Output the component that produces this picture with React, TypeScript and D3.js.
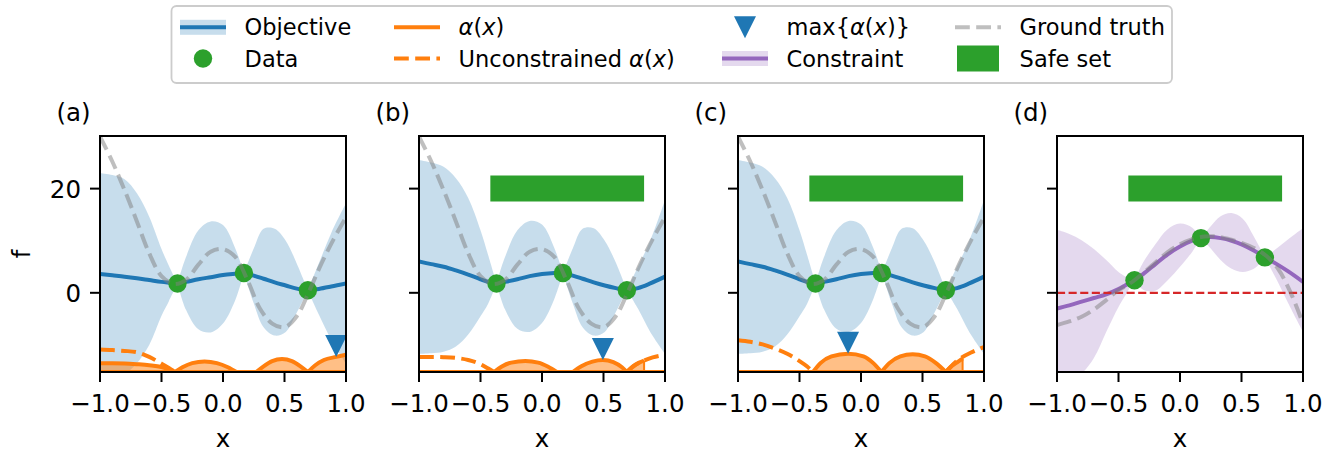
import React from 'react';
import * as d3 from 'd3';

// ---- data ----
const gpX = [-1, -0.9, -0.8, -0.7, -0.6, -0.5, -0.44, -0.37, -0.3, -0.2, -0.1, 0, 0.1, 0.17, 0.25, 0.33, 0.42, 0.51, 0.6, 0.69, 0.78, 0.88, 1.0];

// objective posterior, panel (a)
const objMeanA = [3.6, 3.35, 3.1, 2.8, 2.45, 2.1, 1.95, 1.8, 2.1, 2.6, 3.0, 3.4, 3.65, 3.8, 3.3, 2.7, 2.0, 1.4, 0.8, 0.5, 0.75, 1.2, 1.8];
const objUpperA = [23.0, 22.6, 21.8, 19.1, 14.6, 8.4, 5.2, 1.8, 6.9, 12.0, 13.7, 13.0, 8.5, 3.8, 8.5, 12.3, 12.3, 10.0, 5.6, 0.5, 5.7, 11.5, 17.2];
const objLowerA = [-15.8, -15.8, -15.5, -13.5, -10.0, -4.4, -1.6, 1.8, -3.3, -7.0, -7.6, -5.9, -1.4, 3.8, -2.0, -6.6, -8.2, -7.5, -3.8, 0.5, -4.2, -9.0, -13.6];

// objective posterior, panels (b) and (c)
const objMeanB = [6.0, 5.5, 5.0, 4.3, 3.5, 2.6, 2.1, 1.8, 2.1, 2.6, 3.2, 3.6, 3.8, 3.8, 3.3, 2.7, 2.0, 1.4, 0.9, 0.5, 0.9, 1.8, 3.1];
const objUpperB = [25.5, 25.0, 24.2, 22.0, 18.2, 12.0, 7.4, 1.8, 6.9, 12.0, 13.8, 13.1, 8.6, 3.8, 8.5, 12.3, 12.4, 10.0, 5.8, 0.5, 5.0, 10.0, 17.8];
const objLowerB = [-11.7, -11.6, -11.3, -10.3, -8.0, -4.5, -2.2, 1.8, -3.2, -6.9, -7.5, -5.8, -1.2, 3.8, -2.0, -6.6, -8.2, -7.5, -3.7, 0.5, -3.0, -7.5, -11.7];

// constraint posterior, panel (d)
const conMean = [-3.0, -2.4, -1.7, -1.0, -0.3, 0.7, 1.5, 2.4, 3.6, 5.5, 7.4, 8.9, 10.0, 10.5, 10.7, 10.5, 10.0, 9.2, 8.1, 6.8, 5.6, 4.1, 2.1];
const conUpper = [12.1, 11.3, 10.1, 8.4, 6.3, 4.0, 3.1, 2.4, 5.8, 9.3, 12.2, 13.3, 12.5, 10.5, 12.8, 14.7, 15.3, 14.2, 10.8, 6.8, 8.4, 10.3, 12.4];
const conLower = [-18.0, -17.0, -15.5, -12.5, -7.5, -2.7, -0.3, 2.4, 0.6, 0.4, 2.4, 5.0, 7.9, 10.5, 8.5, 6.3, 4.6, 4.0, 4.6, 6.8, 2.8, -2.0, -7.5];

const dataX = [-0.37, 0.17, 0.69];
const objData = [1.8, 3.8, 0.5];
const conData = [2.4, 10.5, 6.8];

const truthX = [-1, -0.9, -0.8, -0.7, -0.6, -0.5, -0.4, -0.3, -0.2, -0.1, 0, 0.1, 0.2, 0.3, 0.4, 0.5, 0.6, 0.7, 0.8, 0.9, 1.0];
const objTruth = [30.0, 25.2, 19.7, 13.7, 7.6, 3.2, 1.7, 2.5, 5.4, 7.9, 8.4, 6.9, 2.4, -3.0, -5.9, -6.6, -4.5, 0.3, 5.6, 10.3, 14.5];
const conTruth = [-6.2, -5.5, -4.6, -3.2, -1.4, 0.5, 1.9, 3.8, 5.8, 7.8, 9.3, 10.3, 10.8, 10.8, 10.3, 9.6, 8.6, 7.1, 4.5, 0.0, -5.9];

// acquisition (height above the axis floor)
const aSolidX = [[-1, -0.9, -0.8, -0.7, -0.6, -0.5, -0.44, -0.39], [-0.39, -0.33, -0.25, -0.15, -0.05, 0.04, 0.11], [0.27, 0.33, 0.4, 0.48, 0.56, 0.63, 0.69], [0.69, 0.75, 0.82, 0.92, 1.0]];
const aSolidH = [[1.7, 1.7, 1.65, 1.5, 1.3, 0.95, 0.5, 0], [0, 0.9, 1.7, 2.0, 1.7, 0.9, 0], [0, 1.1, 2.1, 2.5, 2.1, 1.1, 0], [0, 1.3, 2.3, 2.9, 3.3]];
const aDashX = [[-1, -0.9, -0.8, -0.7, -0.6, -0.5, -0.44, -0.39]];
const aDashH = [[4.3, 4.2, 4.05, 3.8, 2.9, 1.6, 0.8, 0]];
const aMax = [0.92, 2.9];

const bSolidX = [[-0.39, -0.33, -0.25, -0.135, -0.03, 0.05, 0.12], [0.25, 0.32, 0.41, 0.495, 0.58, 0.65, 0.69], [0.69, 0.74, 0.79, 0.83]];
const bSolidH = [[0, 1.0, 1.8, 2.1, 1.8, 1.0, 0], [0, 1.1, 2.0, 2.3, 1.9, 0.9, 0], [0, 1.1, 1.8, 2.2]];
const bDashX = [[-1, -0.9, -0.8, -0.7, -0.6, -0.5, -0.44, -0.39], [0.69, 0.75, 0.82, 0.9, 1.0]];
const bDashH = [[2.9, 2.9, 2.85, 2.7, 2.3, 1.5, 0.7, 0], [0, 1.2, 2.1, 2.8, 3.3]];
const bMax = [0.495, 2.3];

const cSolidX = [[-0.39, -0.33, -0.24, -0.105, 0.02, 0.1, 0.166], [0.166, 0.23, 0.32, 0.42, 0.52, 0.61, 0.69], [0.69, 0.74, 0.79, 0.826]];
const cSolidH = [[0, 1.7, 3.0, 3.5, 3.0, 1.7, 0], [0, 1.7, 3.0, 3.4, 3.0, 1.7, 0], [0, 1.2, 2.0, 2.6]];
const cDashX = [[-1, -0.9, -0.8, -0.7, -0.6, -0.5, -0.44, -0.39], [0.69, 0.75, 0.82, 0.9, 1.0]];
const cDashH = [[6.1, 5.8, 5.3, 4.5, 3.5, 2.1, 1.1, 0], [0, 1.5, 2.8, 3.8, 4.8]];
const cMax = [-0.105, 3.5];

const safeSet = [-0.42, 0.83];
const safeLevel = 20;
const threshold = 0;

const xTicks = [-1, -0.5, 0, 0.5, 1];
const yTicks = [0, 20];
const panelLabels = ['(a)', '(b)', '(c)', '(d)'];

// ---- layout ----
const W = 1336;
const H = 451;
const panelLeft = [100, 419, 738, 1057];
const PW = 246;
const PT = 136;
const PH = 236;
const FONT = 'DejaVu Sans';
const LW = 4;
const DASH = '14.8 6.4';

const BLUE = '#1f77b4';
const ORANGE = '#ff7f0e';
const GREEN = '#2ca02c';
const RED = '#d62728';
const PURPLE = '#9467bd';

const yScale = d3.scaleLinear().domain([-15.2, 30.1]).range([PT + PH, PT]);
const Y0 = yScale.domain()[0];

const fmt = (v: number) => d3.format('.1f')(v).replace('-', '\u2212');

type Panel = {
  mean: number[]; upper: number[]; lower: number[]; color: string;
  dataY: number[]; truth: number[];
  solidX?: number[][]; solidH?: number[][]; dashX?: number[][]; dashH?: number[][];
  max?: number[]; safe: boolean; thresh: boolean;
};

const panels: Panel[] = [
  { mean: objMeanA, upper: objUpperA, lower: objLowerA, color: BLUE, dataY: objData, truth: objTruth, solidX: aSolidX, solidH: aSolidH, dashX: aDashX, dashH: aDashH, max: aMax, safe: false, thresh: false },
  { mean: objMeanB, upper: objUpperB, lower: objLowerB, color: BLUE, dataY: objData, truth: objTruth, solidX: bSolidX, solidH: bSolidH, dashX: bDashX, dashH: bDashH, max: bMax, safe: true, thresh: false },
  { mean: objMeanB, upper: objUpperB, lower: objLowerB, color: BLUE, dataY: objData, truth: objTruth, solidX: cSolidX, solidH: cSolidH, dashX: cDashX, dashH: cDashH, max: cMax, safe: true, thresh: false },
  { mean: conMean, upper: conUpper, lower: conLower, color: PURPLE, dataY: conData, truth: conTruth, safe: true, thresh: true },
];

// split grid indices at the data locations (posterior pinches there)
const cuts = dataX.map(d => gpX.findIndex(v => Math.abs(v - d) < 1e-9));
const bounds = [0, ...cuts, gpX.length - 1];
const segments = d3.range(bounds.length - 1).map(k => d3.range(bounds[k], bounds[k + 1] + 1));

function PanelView({ p, i }: { p: Panel; i: number }) {
  const left = panelLeft[i];
  const x = d3.scaleLinear().domain([-1, 1]).range([left, left + PW]);
  const y = yScale;
  const band = d3.area<number>().x(j => x(gpX[j])).y0(j => y(p.lower[j])).y1(j => y(p.upper[j])).curve(d3.curveCatmullRom);
  const mean = d3.line<number>().x(j => x(gpX[j])).y(j => y(p.mean[j])).curve(d3.curveCatmullRom);
  const truth = d3.line<number>().x(j => x(truthX[j])).y(j => y(p.truth[j])).curve(d3.curveCatmullRom);
  const acqArea = (xs: number[], hs: number[]) =>
    d3.area<number>().x(j => x(xs[j])).y0(y(Y0)).y1(j => y(Y0 + hs[j])).curve(d3.curveMonotoneX)(d3.range(xs.length)) || '';
  const acqLine = (xs: number[], hs: number[]) =>
    d3.line<number>().x(j => x(xs[j])).y(j => y(Y0 + hs[j])).curve(d3.curveMonotoneX)(d3.range(xs.length)) || '';
  const clipId = `clip${i}`;
  const bottom = PT + PH;

  return (
    <g>
      <defs>
        <clipPath id={clipId}><rect x={left} y={PT} width={PW} height={PH} /></clipPath>
      </defs>
      <g clipPath={`url(#${clipId})`}>
        {segments.map((s, k) => (
          <path key={'b' + k} d={band(s) || ''} fill={p.color} fillOpacity={0.25} stroke="none" />
        ))}
        {p.solidX && p.solidX.map((xs, k) => (
          <path key={'af' + k} d={acqArea(xs, p.solidH![k])} fill={ORANGE} fillOpacity={0.5} stroke="none" />
        ))}
        {segments.map((s, k) => (
          <path key={'m' + k} d={mean(s) || ''} fill="none" stroke={p.color} strokeWidth={LW} />
        ))}
        {p.dashX && p.dashX.map((xs, k) => (
          <path key={'ad' + k} d={acqLine(xs, p.dashH![k])} fill="none" stroke={ORANGE} strokeWidth={LW} strokeDasharray={DASH} />
        ))}
        {p.solidX && (
          <line x1={x(-1)} x2={x(1)} y1={y(Y0)} y2={y(Y0)} stroke={ORANGE} strokeWidth={LW} />
        )}
        {p.solidX && p.solidX.map((xs, k) => {
          const hs = p.solidH![k];
          const last = xs.length - 1;
          return (
            <g key={'al' + k}>
              <path d={acqLine(xs, hs)} fill="none" stroke={ORANGE} strokeWidth={LW} strokeLinejoin="round" />
              {hs[last] > 0 && xs[last] < 1 && (
                <line x1={x(xs[last])} x2={x(xs[last])} y1={y(Y0 + hs[last])} y2={y(Y0)} stroke={ORANGE} strokeWidth={2} />
              )}
            </g>
          );
        })}
        {p.thresh && (
          <line x1={x(-1)} x2={x(1)} y1={y(threshold)} y2={y(threshold)} stroke={RED} strokeWidth={2.2} strokeDasharray="8.1 3.5" />
        )}
        {dataX.map((d, k) => (
          <circle key={'d' + k} cx={x(d)} cy={y(p.dataY[k])} r={9.2} fill={GREEN} />
        ))}
        <path d={truth(d3.range(truthX.length)) || ''} fill="none" stroke="#808080" strokeOpacity={0.5} strokeWidth={LW} strokeDasharray={DASH} />
        {p.safe && (
          <line x1={x(safeSet[0])} x2={x(safeSet[1])} y1={y(safeLevel)} y2={y(safeLevel)} stroke={GREEN} strokeWidth={26} />
        )}
      </g>
      {p.max && (() => {
        const tx = x(p.max[0]);
        const ty = y(Y0 + p.max[1]);
        return <path d={`M${tx},${ty} L${tx - 11},${ty - 22} L${tx + 11},${ty - 22} Z`} fill={BLUE} />;
      })()}
      <rect x={left} y={PT} width={PW} height={PH} fill="none" stroke="#000" strokeWidth={2} />
      {xTicks.map(t => (
        <g key={'xt' + t}>
          <line x1={x(t)} x2={x(t)} y1={bottom} y2={bottom + 10} stroke="#000" strokeWidth={2} />
          <text x={x(t)} y={bottom + 39.5} textAnchor="middle" fontSize={24.5} fontFamily={FONT}>{fmt(t)}</text>
        </g>
      ))}
      {yTicks.map(t => (
        <g key={'yt' + t}>
          <line x1={left - 10} x2={left} y1={y(t)} y2={y(t)} stroke="#000" strokeWidth={2} />
          {i === 0 && (
            <text x={left - 19} y={y(t) + 9} textAnchor="end" fontSize={24.5} fontFamily={FONT}>{t}</text>
          )}
        </g>
      ))}
      <text x={left + PW / 2} y={446.5} textAnchor="middle" fontSize={24.5} fontFamily={FONT}>x</text>
      <text x={left - 43.5} y={121} fontSize={24.5} fontFamily={FONT}>{panelLabels[i]}</text>
    </g>
  );
}

function Legend() {
  const rows = [27.3, 58.5];
  const cols = [180, 394, 722, 955];
  const hl = 46;
  const tx = (c: number) => cols[c] + 64.6;
  const it = (s: string) => <tspan fontStyle="italic">{s}</tspan>;
  const txt = (c: number, r: number, content: React.ReactNode) => (
    <text x={tx(c)} y={rows[r] + 8} fontSize={22.5} fontFamily={FONT}>{content}</text>
  );
  return (
    <g>
      <rect x={171.5} y={6} width={1000.5} height={77} rx={5} fill="#fff" fillOpacity={0.8} stroke="#cccccc" strokeWidth={1.8} />
      {/* Objective */}
      <rect x={cols[0]} y={rows[0] - 7.5} width={hl} height={15} fill={BLUE} fillOpacity={0.25} />
      <line x1={cols[0]} x2={cols[0] + hl} y1={rows[0]} y2={rows[0]} stroke={BLUE} strokeWidth={LW} />
      {txt(0, 0, 'Objective')}
      {/* Data */}
      <circle cx={cols[0] + hl / 2} cy={rows[1]} r={9.2} fill={GREEN} />
      {txt(0, 1, 'Data')}
      {/* alpha */}
      <line x1={cols[1]} x2={cols[1] + hl} y1={rows[0]} y2={rows[0]} stroke={ORANGE} strokeWidth={LW} />
      {txt(1, 0, <>{it('α')}({it('x')})</>)}
      <line x1={cols[1]} x2={cols[1] + hl} y1={rows[1]} y2={rows[1]} stroke={ORANGE} strokeWidth={LW} strokeDasharray={DASH} />
      {txt(1, 1, <>Unconstrained {it('α')}({it('x')})</>)}
      {/* max */}
      <path d={`M${cols[2] + hl / 2},${rows[0] + 11} L${cols[2] + hl / 2 - 11},${rows[0] - 11} L${cols[2] + hl / 2 + 11},${rows[0] - 11} Z`} fill={BLUE} />
      {txt(2, 0, <>max{'{'}{it('α')}({it('x')}){'}'}</>)}
      <rect x={cols[2]} y={rows[1] - 7.5} width={hl} height={15} fill={PURPLE} fillOpacity={0.25} />
      <line x1={cols[2]} x2={cols[2] + hl} y1={rows[1]} y2={rows[1]} stroke={PURPLE} strokeWidth={LW} />
      {txt(2, 1, 'Constraint')}
      {/* ground truth / safe set */}
      <line x1={cols[3]} x2={cols[3] + hl} y1={rows[0]} y2={rows[0]} stroke="#808080" strokeOpacity={0.5} strokeWidth={LW} strokeDasharray={DASH} />
      {txt(3, 0, 'Ground truth')}
      <line x1={cols[3] + 2} x2={cols[3] + hl - 2} y1={rows[1]} y2={rows[1]} stroke={GREEN} strokeWidth={26} />
      {txt(3, 1, 'Safe set')}
    </g>
  );
}

export default function App() {
  return (
    <svg width={W} height={H} style={{ position: 'absolute', left: 0, top: 0, background: '#fff' }}>
      <rect width={W} height={H} fill="#fff" />
      <Legend />
      {panels.map((p, i) => <PanelView key={i} p={p} i={i} />)}
      <text transform={`translate(30,${PT + PH / 2}) rotate(-90)`} textAnchor="middle" fontSize={24.5} fontFamily={FONT}>f</text>
    </svg>
  );
}
